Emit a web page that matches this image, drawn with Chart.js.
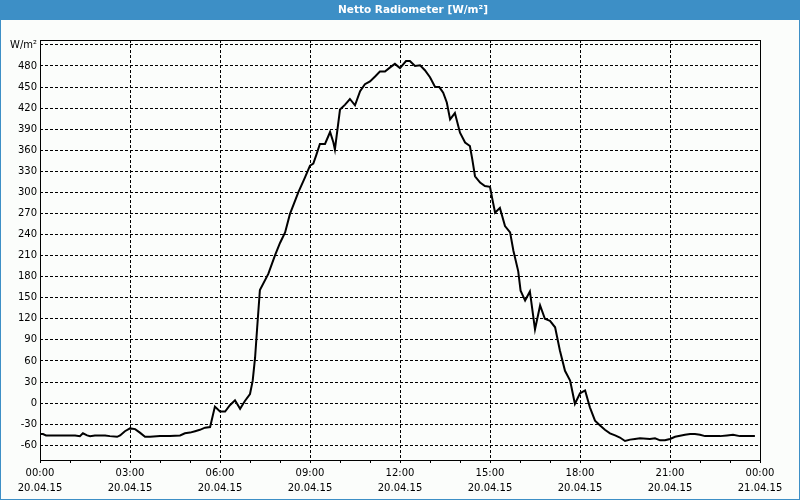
<!DOCTYPE html>
<html>
<head>
<meta charset="utf-8">
<script src="https://cdn.jsdelivr.net/npm/chart.js@4"></script>
<style>
html,body{margin:0;padding:0;background:#fbfdfb;}
#wrap{width:800px;height:500px;position:relative;}
</style>
</head>
<body>
<div id="wrap"><canvas id="c" width="800" height="500"></canvas></div>
<script>
// Time of day in hours (20.04.15), 10-minute-ish samples
const hours = [0,0.1,0.2,0.67,1.17,1.33,1.43,1.57,1.67,1.83,2.17,2.33,2.57,2.67,2.83,3.0,3.17,3.33,3.5,3.67,4.0,4.33,4.67,4.83,5.0,5.17,5.33,5.5,5.67,5.83,6.0,6.17,6.33,6.5,6.67,6.83,7.0,7.09,7.17,7.24,7.33,7.61,7.83,8.0,8.17,8.33,8.61,8.83,9.0,9.11,9.2,9.33,9.5,9.67,9.78,9.83,10.0,10.17,10.33,10.5,10.67,10.83,11.0,11.17,11.33,11.5,11.67,11.83,12.0,12.2,12.33,12.5,12.67,12.83,13.0,13.17,13.31,13.44,13.56,13.67,13.83,14.0,14.17,14.33,14.41,14.5,14.67,14.83,15.0,15.09,15.17,15.33,15.5,15.67,15.78,15.94,16.02,16.17,16.33,16.5,16.67,16.83,17.0,17.17,17.33,17.5,17.67,17.83,18.0,18.17,18.33,18.5,18.67,18.83,19.0,19.17,19.33,19.5,19.67,19.83,20.0,20.33,20.5,20.67,20.83,21.0,21.17,21.5,21.67,21.83,22.0,22.17,22.67,22.9,23.1,23.33,23.83];
// Net radiation W/m²
const netRadiation = [-44,-44,-46,-46,-46,-47,-43,-46,-47,-46,-46,-47,-48,-46,-40,-36,-37,-42,-48,-48,-47,-47,-46,-43,-42,-40,-38,-35,-34,-5,-12,-12,-3,4,-8,3,13,32,65,108,161,184,210,228,243,269,300,321,338,341,352,369,369,386,371,361,418,425,433,424,444,454,458,465,472,472,478,483,477,487,487,480,481,474,464,450,450,442,428,404,413,385,371,366,347,323,314,309,308,288,271,278,252,243,217,188,160,146,159,105,139,120,117,108,75,46,32,-1,14,18,-6,-25,-32,-38,-43,-46,-49,-54,-52,-51,-50,-51,-50,-53,-53,-51,-48,-45,-44,-44,-45,-47,-47,-46,-45,-47,-47];
// Axis ticks
const yTicks = [-60,-30,0,30,60,90,120,150,180,210,240,270,300,330,360,390,420,450,480,510];
const yUnitTick = 510;
const yUnitLabel = 'W/m²';
const xLabelHours = [0,3,6,9,12,15,18,21,24];
const xTimeLabels = ['00:00','03:00','06:00','09:00','12:00','15:00','18:00','21:00','00:00'];
const xDateLabels = ['20.04.15','20.04.15','20.04.15','20.04.15','20.04.15','20.04.15','20.04.15','20.04.15','21.04.15'];
const chartTitle = 'Netto Radiometer [W/m²]';

const points = hours.map((h,i)=>({x:h,y:netRadiation[i]}));
const FONT = 'DejaVu Sans';
const BLUE = '#3d8fc6';

const framePlugin = {
  id:'frame',
  beforeDraw(chart){
    const c = chart.ctx;
    c.save();
    c.fillStyle = '#fbfdfb';
    c.fillRect(0,0,chart.width,chart.height);
    c.fillStyle = BLUE;
    c.fillRect(0,0,chart.width,20);
    c.fillStyle = '#ffffff';
    c.font = 'bold 10.5px "' + FONT + '"';
    c.textAlign = 'center';
    c.textBaseline = 'middle';
    c.fillText(chartTitle, 413, 10);
    c.restore();
  },
  afterDraw(chart){
    const c = chart.ctx, a = chart.chartArea;
    c.save();
    c.strokeStyle = '#000';
    c.lineWidth = 1;
    c.setLineDash([]);
    c.strokeRect(Math.round(a.left)+0.5, Math.round(a.top)+0.5, Math.round(a.right-a.left), Math.round(a.bottom-a.top));
    c.strokeStyle = BLUE;
    c.strokeRect(0.5,0.5,chart.width-1,chart.height-1);
    c.restore();
  }
};

new Chart(document.getElementById('c'), {
  type:'line',
  data:{datasets:[{
    data:points,
    borderColor:'#000',
    borderWidth:2,
    pointRadius:0,
    tension:0,
    fill:false
  }]},
  options:{
    responsive:false,
    animation:false,
    events:[],
    layout:{padding:{top:40,right:40,left:0,bottom:0}},
    plugins:{legend:{display:false},tooltip:{enabled:false},title:{display:false}},
    scales:{
      x:{
        type:'linear',
        min:0,max:24,
        afterBuildTicks(s){ const t=[]; for(let h=0;h<=24;h++) t.push({value:h}); s.ticks=t; },
        afterFit(s){ s.height = 40; },
        border:{display:false, dash:[3,2]},
        grid:{
          color:(ctx)=>{const v=ctx.tick && ctx.tick.value; return (v%3===0 && v>0 && v<24)?'#000':'rgba(0,0,0,0)';},
          tickColor:'#000',
          tickBorderDash:[],
          tickLength:3,
          lineWidth:1
        },
        ticks:{
          autoSkip:false,maxRotation:0,minRotation:0,padding:3,
          color:'#000',
          font:{family:FONT,size:10,lineHeight:1.5},
          callback:(v)=>{const i=xLabelHours.indexOf(v); return i<0?'':[xTimeLabels[i],xDateLabels[i]];}
        }
      },
      y:{
        type:'linear',
        min:-81,max:517,
        afterBuildTicks(s){ s.ticks = yTicks.map(v=>({value:v})); },
        afterFit(s){ s.width = 40; },
        border:{display:false, dash:[3,2]},
        grid:{color:'#000',drawTicks:false,lineWidth:1},
        ticks:{
          padding:3,color:'#000',
          font:{family:FONT,size:10},
          callback:(v)=> v===yUnitTick ? yUnitLabel : String(v)
        }
      }
    }
  },
  plugins:[framePlugin]
});
</script>
</body>
</html>
